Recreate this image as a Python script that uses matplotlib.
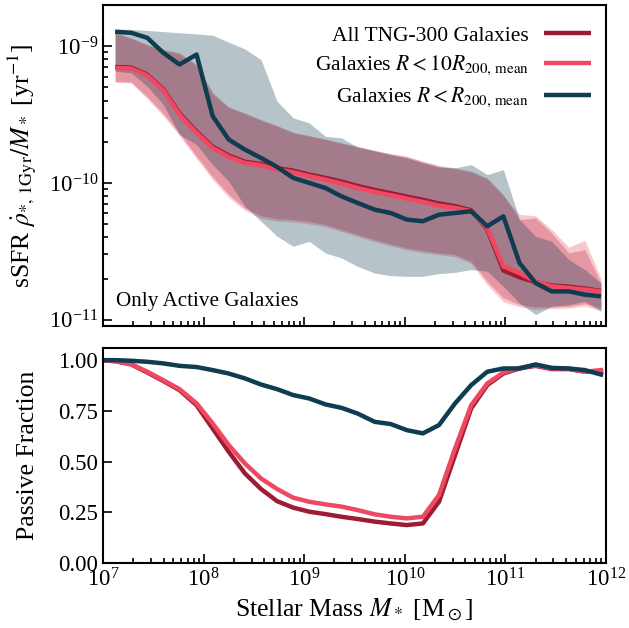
import matplotlib

matplotlib.use("Agg")
import matplotlib.pyplot as plt
import numpy as np

# log10 stellar mass bin centres (top panel) and passive fraction bins (bottom panel)
log_mass = [7.12, 7.28, 7.44, 7.60, 7.76, 7.93, 8.09, 8.25, 8.41, 8.57,
            8.73, 8.89, 9.05, 9.21, 9.37, 9.53, 9.70, 9.86, 10.02, 10.18,
            10.34, 10.50, 10.66, 10.82, 10.98, 11.14, 11.30, 11.46, 11.63, 11.79, 11.95]
log_mass_frac = [6.96] + log_mass

# median log sSFR of active galaxies
ssfr_all = [-9.152, -9.156, -9.208, -9.315, -9.490, -9.625, -9.735, -9.800, -9.845, -9.862,
            -9.892, -9.910, -9.939, -9.963, -9.990, -10.022, -10.051, -10.075, -10.100, -10.124,
            -10.150, -10.170, -10.200, -10.340, -10.640, -10.690, -10.725, -10.750, -10.758, -10.772, -10.790]
ssfr_10r = [-9.159, -9.163, -9.215, -9.322, -9.500, -9.634, -9.744, -9.810, -9.854, -9.871,
            -9.902, -9.922, -9.951, -9.976, -10.005, -10.037, -10.066, -10.090, -10.115, -10.139,
            -10.166, -10.183, -10.207, -10.329, -10.610, -10.659, -10.720, -10.756, -10.768, -10.780, -10.793]
ssfr_r200 = [-8.895, -8.902, -8.939, -9.049, -9.134, -9.061, -9.512, -9.683, -9.756, -9.817,
             -9.883, -9.963, -10.000, -10.037, -10.098, -10.146, -10.195, -10.220, -10.268, -10.280,
             -10.232, -10.220, -10.207, -10.317, -10.244, -10.585, -10.732, -10.793, -10.793, -10.817, -10.829]

# 16th / 84th percentile envelopes (log sSFR)
all_hi = [-8.902, -8.939, -8.988, -9.024, -9.049, -9.134, -9.341, -9.444, -9.488, -9.537,
          -9.580, -9.629, -9.654, -9.678, -9.707, -9.732, -9.761, -9.785, -9.805, -9.841,
          -9.873, -9.890, -9.915, -9.963, -10.085, -10.268, -10.256, -10.366, -10.512, -10.488, -10.732]
all_lo = [-9.256, -9.261, -9.371, -9.493, -9.639, -9.805, -9.956, -10.085, -10.183, -10.239,
          -10.263, -10.268, -10.283, -10.305, -10.341, -10.378, -10.415, -10.446, -10.476, -10.495,
          -10.512, -10.524, -10.573, -10.720, -10.841, -10.890, -10.907, -10.907, -10.902, -10.883, -10.915]
r10_hi = [-8.910, -8.945, -8.995, -9.030, -9.060, -9.145, -9.350, -9.452, -9.495, -9.545,
          -9.588, -9.635, -9.660, -9.684, -9.712, -9.738, -9.766, -9.790, -9.812, -9.848,
          -9.880, -9.898, -9.922, -9.975, -10.100, -10.230, -10.240, -10.340, -10.470, -10.420, -10.700]
r10_lo = [-9.265, -9.270, -9.385, -9.510, -9.655, -9.822, -9.975, -10.105, -10.200, -10.258,
          -10.280, -10.285, -10.300, -10.320, -10.355, -10.392, -10.430, -10.460, -10.490, -10.510,
          -10.525, -10.540, -10.590, -10.745, -10.870, -10.905, -10.925, -10.920, -10.915, -10.900, -10.935]
r200_hi = [-8.873, -8.878, -8.885, -8.893, -8.902, -8.910, -8.920, -8.971, -9.020, -9.098,
           -9.402, -9.524, -9.561, -9.659, -9.671, -9.737, -9.766, -9.795, -9.817, -9.854,
           -9.885, -9.890, -9.866, -9.939, -9.902, -10.268, -10.390, -10.427, -10.561, -10.634, -10.732]
r200_lo = [-9.183, -9.195, -9.293, -9.427, -9.646, -9.720, -9.866, -9.988, -10.171, -10.280,
           -10.390, -10.463, -10.427, -10.512, -10.549, -10.610, -10.659, -10.678, -10.683, -10.683,
           -10.663, -10.654, -10.634, -10.646, -10.756, -10.878, -10.963, -10.902, -10.890, -10.866, -10.939]

# passive fractions
frac_all = [1.000, 0.995, 0.979, 0.939, 0.897, 0.852, 0.778, 0.663, 0.548, 0.442, 0.365,
            0.305, 0.273, 0.253, 0.241, 0.228, 0.217, 0.204, 0.195, 0.187, 0.195,
            0.302, 0.532, 0.762, 0.877, 0.934, 0.959, 0.972, 0.956, 0.956, 0.943, 0.946]
frac_10r = [1.000, 0.995, 0.980, 0.943, 0.901, 0.857, 0.787, 0.688, 0.581, 0.491, 0.417,
            0.365, 0.322, 0.302, 0.289, 0.278, 0.261, 0.240, 0.228, 0.220, 0.228,
            0.335, 0.565, 0.778, 0.885, 0.939, 0.962, 0.975, 0.959, 0.959, 0.943, 0.951]
frac_r200 = [1.000, 1.000, 0.997, 0.992, 0.984, 0.972, 0.966, 0.951, 0.934, 0.910, 0.880,
             0.857, 0.828, 0.811, 0.782, 0.765, 0.737, 0.696, 0.685, 0.655, 0.639,
             0.680, 0.787, 0.877, 0.943, 0.959, 0.959, 0.979, 0.962, 0.959, 0.951, 0.929]

labels = ["All TNG-300 Galaxies",
          r"Galaxies $R < 10R_{200,\,\mathrm{mean}}$",
          r"Galaxies $R < R_{200,\,\mathrm{mean}}$"]
colors = ["#9e1c33", "#ef4862", "#0e3c51"]

plt.rcParams["font.family"] = "serif"
plt.rcParams["font.serif"] = ["Liberation Serif", "DejaVu Serif"]
plt.rcParams["mathtext.fontset"] = "stix"
plt.rcParams["font.size"] = 16
plt.rcParams["axes.linewidth"] = 1.5

fig = plt.figure(figsize=(6.29, 6.28), dpi=100)
ax_top = fig.add_axes([0.1638, 0.481, 0.7996, 0.511])
ax_bot = fig.add_axes([0.1638, 0.1035, 0.7996, 0.3424])

m = 10 ** np.array(log_mass)
m_frac = 10 ** np.array(log_mass_frac)

bands = [(all_lo, all_hi), (r10_lo, r10_hi), (r200_lo, r200_hi)]
for (lo, hi), c in zip(bands, colors):
    ax_top.fill_between(m, 10 ** np.array(lo), 10 ** np.array(hi), color=c, alpha=0.3, lw=0)

for y, c, lab in zip([ssfr_all, ssfr_10r, ssfr_r200], colors, labels):
    ax_top.plot(m, 10 ** np.array(y), color=c, lw=3.2, label=lab, solid_capstyle="butt")

for y, c in zip([frac_all, frac_10r, frac_r200], colors):
    ax_bot.plot(m_frac, y, color=c, lw=3.2)

for ax in (ax_top, ax_bot):
    ax.set_xscale("log")
    ax.set_xlim(1e7, 1e12)
    ax.tick_params(which="both", direction="in", top=False, right=False, width=1.2)
    ax.tick_params(which="major", length=6.5, labelsize=16.5)
    ax.tick_params(which="minor", length=3.5)

ax_top.set_yscale("log")
ax_top.set_ylim(9e-12, 2e-9)
ax_top.tick_params(axis="x", labelbottom=False)
ax_top.set_ylabel(r"sSFR $\dot{\rho}_{*,\,1\mathrm{Gyr}}/M_*$ [yr$^{-1}$]", fontsize=18.5)
ax_top.text(0.026, 0.045, "Only Active Galaxies", transform=ax_top.transAxes,
            fontsize=15.2, ha="left", va="bottom")
ax_top.legend(loc="upper right", frameon=False, markerfirst=False, fontsize=15.5,
              handlelength=2.2, handletextpad=0.7, labelspacing=0.39,
              borderaxespad=0.4, bbox_to_anchor=(1.005, 0.99))

ax_bot.set_ylim(0, 1.06)
ax_bot.set_yticks([0, 0.25, 0.5, 0.75, 1.0])
ax_bot.set_ylabel("Passive Fraction", fontsize=18.5)
ax_bot.set_xlabel(r"Stellar Mass $M_*$ [M$_\odot$]", fontsize=18.5)

ax_top.yaxis.set_label_coords(-0.128, 0.5)
ax_bot.yaxis.set_label_coords(-0.128, 0.5)
fig.savefig("out.png", dpi=100)
